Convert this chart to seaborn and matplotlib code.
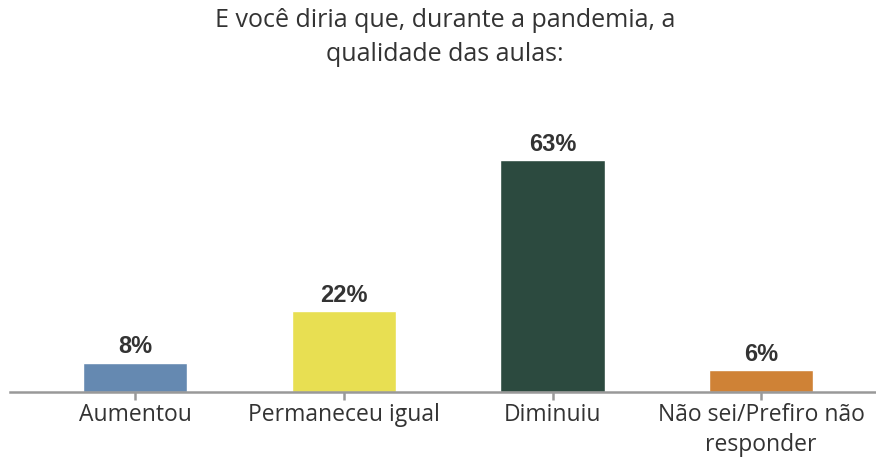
import matplotlib
matplotlib.use("Agg")
import matplotlib.pyplot as plt
import pandas as pd
import seaborn as sns

categorias = ["Aumentou", "Permaneceu igual", "Diminuiu", "Não sei/Prefiro não\nresponder"]
percentuais = [8, 22, 63, 6]
cores = ["#6589B1", "#E8DF52", "#2C4A3F", "#CF8236"]
titulo = "E você diria que, durante a pandemia, a\nqualidade das aulas:"

sns.set_style("white")
plt.rcParams['font.family'] = ['Open Sans', 'DejaVu Sans']

df = pd.DataFrame({"cat": categorias, "pct": percentuais})

fig = plt.figure(figsize=(8.76, 4.57), dpi=100)
ax = fig.add_axes([0.0114, 0.142, 0.9886, 0.638])

sns.barplot(data=df, x="cat", y="pct", hue="cat", palette=cores, width=0.5,
            legend=False, ax=ax, saturation=1)

# rótulos de valor
for i, v in enumerate(percentuais):
    ax.text(i, v + 1.2, f"{v}%", ha="center", va="bottom", fontsize=17,
            fontweight="bold", color="#333333", family=["Liberation Sans", "DejaVu Sans"])

ax.set_xlim(-0.6, 3.55)
ax.set_ylim(0, 79.2)
ax.set_xlabel("")
ax.set_ylabel("")
ax.set_yticks([])
for s in ["top", "right", "left"]:
    ax.spines[s].set_visible(False)
ax.spines["bottom"].set_color("#999999")
ax.spines["bottom"].set_linewidth(1.8)
ax.tick_params(axis="x", bottom=True, length=6, width=1.8, color="#999999",
               labelsize=16.5, labelcolor="#333333", pad=2)
for lbl in ax.get_xticklabels():
    lbl.set_linespacing(1.3)

fig.suptitle(titulo, x=0.508, y=0.983, fontsize=18, color="#333333", va="top", linespacing=1.5)

fig.savefig("out.png", dpi=100)
